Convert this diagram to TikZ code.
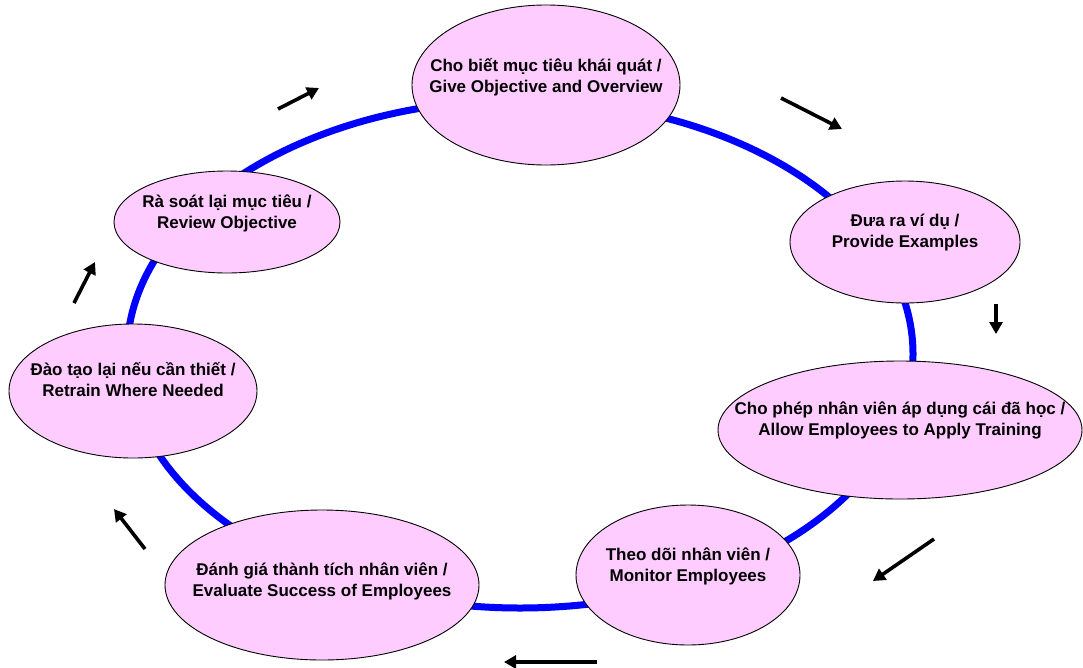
\documentclass[tikz,border=0pt]{standalone}
\usepackage{fontspec}
\setmainfont{Liberation Sans}
\usetikzlibrary{shapes.geometric,arrows.meta}
\definecolor{stagefill}{HTML}{FFCCFF}
\definecolor{cycleblue}{HTML}{0000FF}
\begin{document}
\begin{tikzpicture}[x=1pt,y=-1pt,
  stage/.style={ellipse,draw=black,line width=0.9pt,fill=stagefill,inner sep=0pt},
  stagetext/.style={align=center,inner sep=0pt,font=\bfseries\fontsize{17}{21}\selectfont},
  flow/.style={line width=3.6pt,-{Triangle[length=12pt,width=13pt]}}]
\useasboundingbox (0,0) rectangle (1083,667);
% the cycle ring behind the stages
\draw[cycleblue,line width=7pt] (520,354) ellipse [x radius=393, y radius=254];
% stages
\node[stage,minimum width=268,minimum height=160] (e1) at (546,85) {};
\node[stage,minimum width=230,minimum height=122] (e2) at (905,242) {};
\node[stage,minimum width=364,minimum height=138] (e3) at (900,430) {};
\node[stage,minimum width=224,minimum height=140] (e4) at (688,575) {};
\node[stage,minimum width=314,minimum height=150] (e5) at (322,585) {};
\node[stage,minimum width=248,minimum height=134] (e6) at (133,391) {};
\node[stage,minimum width=226,minimum height=102] (e7) at (227,222) {};
% stage labels
\node[stagetext] (t1) at (546,77) {Cho biết mục tiêu khái quát /\\Give Objective and Overview};
\node[stagetext] (t2) at (905,233) {Đưa ra ví dụ /\\Provide Examples};
\node[stagetext] (t3) at (900,420) {Cho phép nhân viên áp dụng cái đã học /\\Allow Employees to Apply Training};
\node[stagetext] (t4) at (688,566) {Theo dõi nhân viên /\\Monitor Employees};
\node[stagetext] (t5) at (322,581) {Đánh giá thành tích nhân viên /\\Evaluate Success of Employees};
\node[stagetext] (t6) at (133,380) {Đào tạo lại nếu cần thiết /\\Retrain Where Needed};
\node[stagetext] (t7) at (227,213) {Rà soát lại mục tiêu /\\Review Objective};
% direction arrows around the ring
\coordinate (a1s) at (278,109); \coordinate (a1e) at (319,88);
\coordinate (a2s) at (781,98);  \coordinate (a2e) at (842,129);
\coordinate (a3s) at (996,304); \coordinate (a3e) at (996,334);
\coordinate (a4s) at (934,539); \coordinate (a4e) at (873,581);
\coordinate (a5s) at (597,662); \coordinate (a5e) at (504,662);
\coordinate (a6s) at (145,549); \coordinate (a6e) at (114,509);
\coordinate (a7s) at (74,303);  \coordinate (a7e) at (95,262);
\draw[flow] (a1s) -- (a1e);
\draw[flow] (a2s) -- (a2e);
\draw[flow] (a3s) -- (a3e);
\draw[flow] (a4s) -- (a4e);
\draw[flow] (a5s) -- (a5e);
\draw[flow] (a6s) -- (a6e);
\draw[flow] (a7s) -- (a7e);
\end{tikzpicture}
\end{document}
